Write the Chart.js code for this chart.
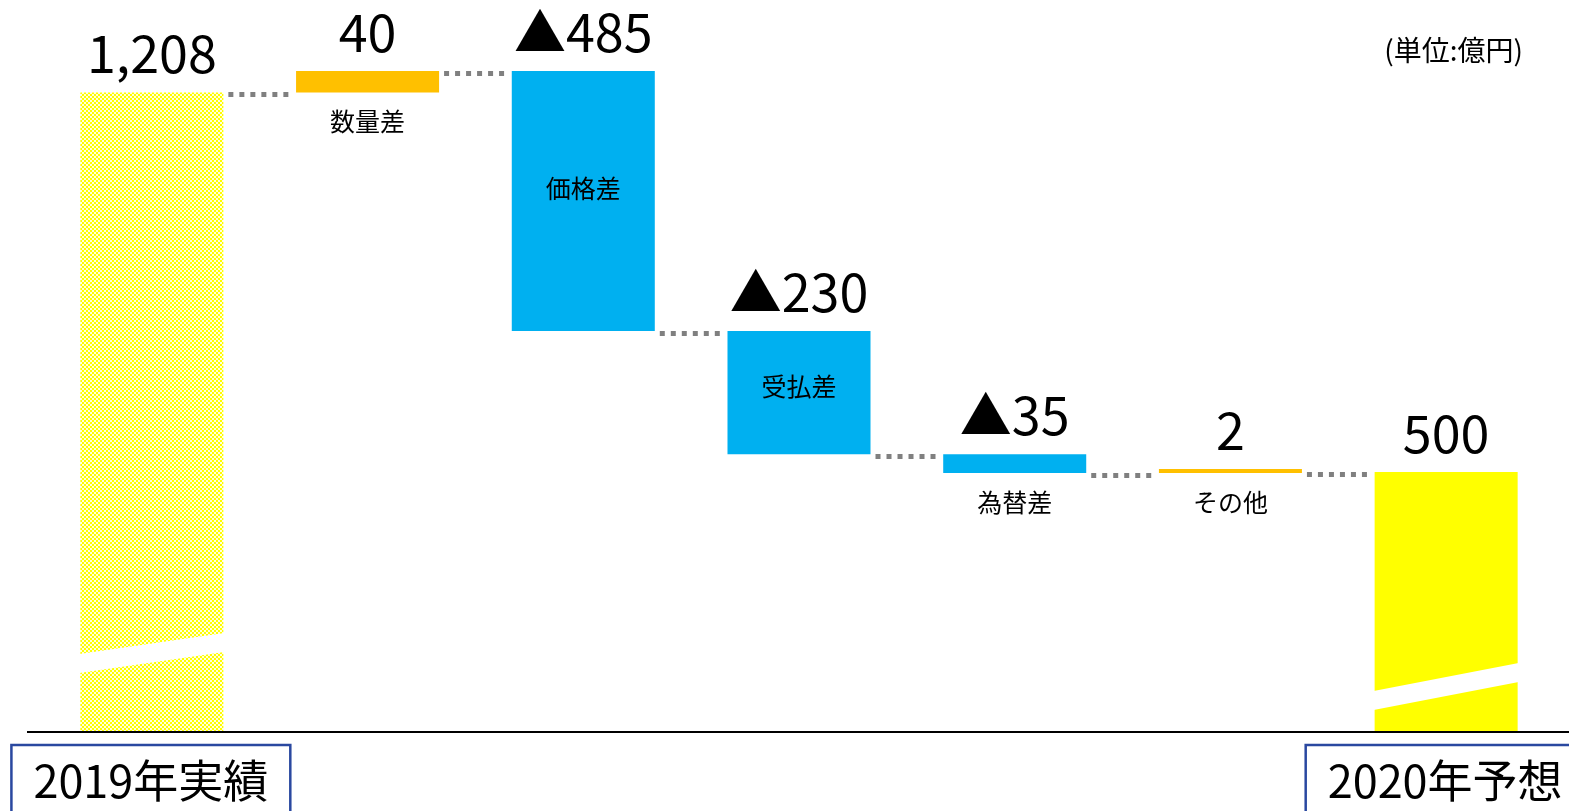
<!DOCTYPE html>
<html>
<head>
<meta charset="utf-8">
<script src="https://cdn.jsdelivr.net/npm/chart.js@4"></script>
<style>
  html, body { margin: 0; padding: 0; background: #ffffff; overflow: hidden; }
  canvas { display: block; }
</style>
</head>
<body>
<canvas id="chart" width="1569" height="811"></canvas>
<script>
// ===== DATA =====
const categories = ['2019年実績', '数量差', '価格差', '受払差', '為替差', 'その他', '2020年予想'];
const startValue = 1208;                 // 2019 result
const deltas = [40, -485, -230, -35, 2]; // change factors
const endValue = 500;                    // 2020 forecast
const valueLabels = ['1,208', '40', '▲485', '▲230', '▲35', '2', '500'];
const unitLabel = '(単位:億円)';

// axis range (bottom of the chart is broken, so it does not start at 0)
const yAxisMin = 17;
const yAxisMax = 1248;

// ===== COLORS =====
const upColor = '#FFC000';
const downColor = '#00B0F0';
const endColor = '#FFFF00';
const FONT = '"Noto Sans CJK JP", "Noto Sans", sans-serif';

// checker pattern for the first (actual) bar
function makePattern() {
  const c = document.createElement('canvas');
  c.width = 4;
  c.height = 4;
  const g = c.getContext('2d');
  g.fillStyle = '#ffffe0';
  g.fillRect(0, 0, 4, 4);
  g.fillStyle = '#ffff00';
  g.fillRect(0, 0, 2, 2);
  g.fillRect(2, 2, 2, 2);
  return g.createPattern(c, 'repeat');
}

// ===== BUILD FLOATING BARS =====
const ranges = [[0, startValue]];
const colors = [makePattern()];
let running = startValue;
deltas.forEach(function(d) {
  ranges.push([running, running + d]);
  colors.push(d >= 0 ? upColor : downColor);
  running += d;
});
ranges.push([0, endValue]);
colors.push(endColor);

// ===== DECORATION PLUGIN =====
const waterfallDecor = {
  id: 'waterfallDecor',
  afterDatasetsDraw: function(chart) {
    const ctx = chart.ctx;
    const meta = chart.getDatasetMeta(0);
    const y = chart.scales.y;
    const area = chart.chartArea;
    const bars = meta.data;

    ctx.save();

    // break marks on the two total bars (white slanted bands)
    function breakBand(bar, leftOff, rightOff, thick) {
      const l = bar.x - bar.width / 2 - 1;
      const r = bar.x + bar.width / 2 + 1;
      const b = area.bottom;
      ctx.fillStyle = '#ffffff';
      ctx.beginPath();
      ctx.moveTo(l, b - leftOff);
      ctx.lineTo(r, b - rightOff);
      ctx.lineTo(r, b - rightOff - thick);
      ctx.lineTo(l, b - leftOff - thick);
      ctx.closePath();
      ctx.fill();
    }
    breakBand(bars[0], 58, 79, 19);
    breakBand(bars[bars.length - 1], 21, 49, 19);

    // dotted connectors between bars
    ctx.strokeStyle = '#808080';
    ctx.lineWidth = 5;
    ctx.setLineDash([5, 6]);
    for (let i = 0; i < bars.length - 1; i++) {
      const level = ranges[i][1];
      const py = Math.round(y.getPixelForValue(level)) + 2.5;
      const x1 = bars[i].x + bars[i].width / 2 + 5;
      const x2 = bars[i + 1].x - bars[i + 1].width / 2 - 4;
      ctx.beginPath();
      ctx.moveTo(x1, py);
      ctx.lineTo(x2, py);
      ctx.stroke();
    }
    ctx.setLineDash([]);

    // value labels above bars
    ctx.fillStyle = '#000000';
    ctx.textAlign = 'center';
    ctx.textBaseline = 'alphabetic';
    ctx.font = '52px ' + FONT;
    bars.forEach(function(bar, i) {
      const top = Math.min(bar.y, bar.base);
      ctx.fillText(valueLabels[i], bar.x, top - 19);
    });

    // category labels for the change bars
    ctx.font = '25px ' + FONT;
    ctx.textBaseline = 'middle';
    for (let i = 1; i < bars.length - 1; i++) {
      const bar = bars[i];
      const top = Math.min(bar.y, bar.base);
      const bottom = Math.max(bar.y, bar.base);
      const h = bottom - top;
      if (h > 60) {
        ctx.fillText(categories[i], bar.x, top + h * 0.45);
      } else {
        ctx.fillText(categories[i], bar.x, bottom + 29);
      }
    }

    ctx.restore();
  },
  afterDraw: function(chart) {
    const ctx = chart.ctx;
    const area = chart.chartArea;
    const bars = chart.getDatasetMeta(0).data;

    ctx.save();

    // base line
    ctx.strokeStyle = '#000000';
    ctx.lineWidth = 2;
    ctx.beginPath();
    ctx.moveTo(area.left - 17, area.bottom + 1);
    ctx.lineTo(chart.width, area.bottom + 1);
    ctx.stroke();

    // boxed labels for the totals
    ctx.font = '45px ' + FONT;
    ctx.textAlign = 'center';
    ctx.textBaseline = 'alphabetic';
    [0, bars.length - 1].forEach(function(i) {
      const bar = bars[i];
      const w = ctx.measureText(categories[i]).width;
      ctx.fillStyle = '#000000';
      ctx.fillText(categories[i], bar.x - 1, area.bottom + 67);
      ctx.strokeStyle = '#2a48a0';
      ctx.lineWidth = 2.5;
      ctx.strokeRect(bar.x - 1 - w / 2 - 22, area.bottom + 14, w + 44, 100);
    });

    // unit
    ctx.font = '28px ' + FONT;
    ctx.textAlign = 'right';
    ctx.textBaseline = 'middle';
    ctx.fillStyle = '#000000';
    ctx.fillText(unitLabel, area.right - 31, 50);

    ctx.restore();
  }
};

// ===== DRAW THE CHART =====
const ctx = document.getElementById('chart').getContext('2d');
new Chart(ctx, {
  type: 'bar',
  data: {
    labels: categories,
    datasets: [{
      data: ranges,
      backgroundColor: colors,
      borderWidth: 0,
      borderSkipped: false,
      minBarLength: 4,
      barPercentage: 0.663,
      categoryPercentage: 1,
      clip: 0
    }]
  },
  options: {
    responsive: false,
    animation: false,
    layout: {
      padding: { top: 71, bottom: 80, left: 44, right: 15 }
    },
    scales: {
      x: { display: false },
      y: { display: false, min: yAxisMin, max: yAxisMax }
    },
    plugins: {
      legend: { display: false },
      tooltip: { enabled: false }
    }
  },
  plugins: [waterfallDecor]
});
</script>
</body>
</html>
